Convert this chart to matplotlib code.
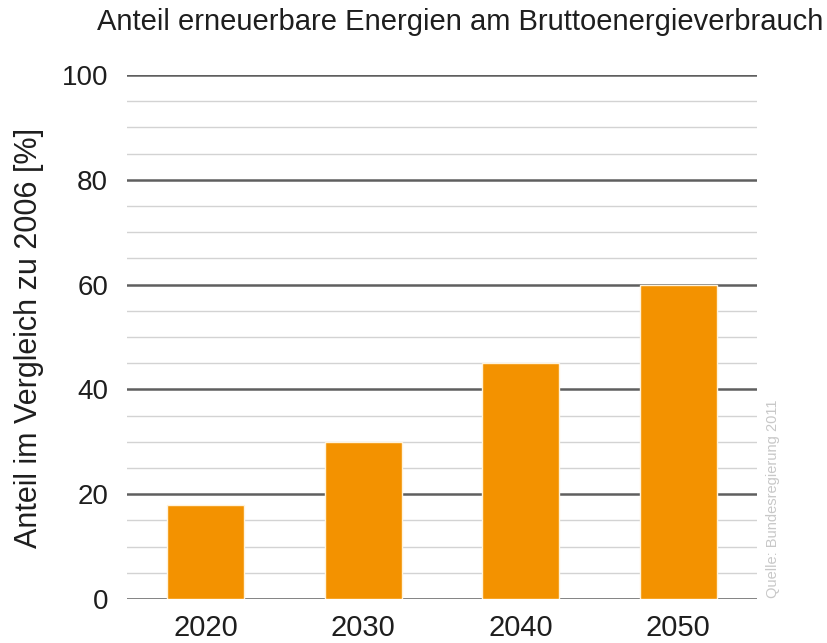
import numpy as np
import matplotlib
matplotlib.use('Agg')
import matplotlib.pyplot as plt
import matplotlib.ticker as ticker

plt.rcParams['font.family'] = ['Liberation Sans', 'DejaVu Sans']

# Ziele: Anteil erneuerbarer Energien am Bruttoenergieverbrauch
years = ['2020', '2030', '2040', '2050']
shares = [18, 30, 45, 60]

BAR_COLOR = '#F39200'
MAJOR_COLOR = '#5f5f5f'
MINOR_COLOR = '#d3d3d3'
TEXT_COLOR = '#1e1e1e'

W, H = 828, 643
fig = plt.figure(figsize=(W / 100, H / 100), dpi=100)
ax = fig.add_axes([127 / W, 1 - 599 / H, 630 / W, 524 / H])

x = np.arange(len(years))
ax.bar(x, shares, width=0.49, color=BAR_COLOR, edgecolor='#fff3dc',
       linewidth=1.0, zorder=3)

ax.set_xlim(-0.5, len(years) - 0.5)
ax.set_ylim(0, 100)
ax.yaxis.set_major_locator(ticker.MultipleLocator(20))
ax.yaxis.set_minor_locator(ticker.MultipleLocator(5))
ax.grid(axis='y', which='major', color=MAJOR_COLOR, linewidth=1.8, zorder=1)
ax.grid(axis='y', which='minor', color=MINOR_COLOR, linewidth=1.0, zorder=1)
ax.set_axisbelow(True)

for side in ['top', 'right', 'left', 'bottom']:
    ax.spines[side].set_visible(False)

ax.set_xticks(x)
ax.set_xticklabels(years)
ax.tick_params(axis='both', which='both', length=0, labelcolor=TEXT_COLOR)
ax.tick_params(axis='x', labelsize=21, pad=10.5)
ax.tick_params(axis='y', labelsize=20, pad=13.5)

fig.text(29 / W, 1 - 338 / H, 'Anteil im Vergleich zu 2006 [%]',
         fontsize=22, color=TEXT_COLOR, rotation=90,
         ha='center', va='center')

fig.text(97 / W, 1 - 29.5 / H,
         'Anteil erneuerbare Energien am Bruttoenergieverbrauch',
         fontsize=21, color=TEXT_COLOR, va='baseline', ha='left')

fig.text(773 / W, 1 - 499 / H, 'Quelle: Bundesregierung 2011',
         fontsize=10.5, color='#c8c8c8', rotation=90,
         va='center', ha='center')

fig.savefig('out.png', dpi=100)
